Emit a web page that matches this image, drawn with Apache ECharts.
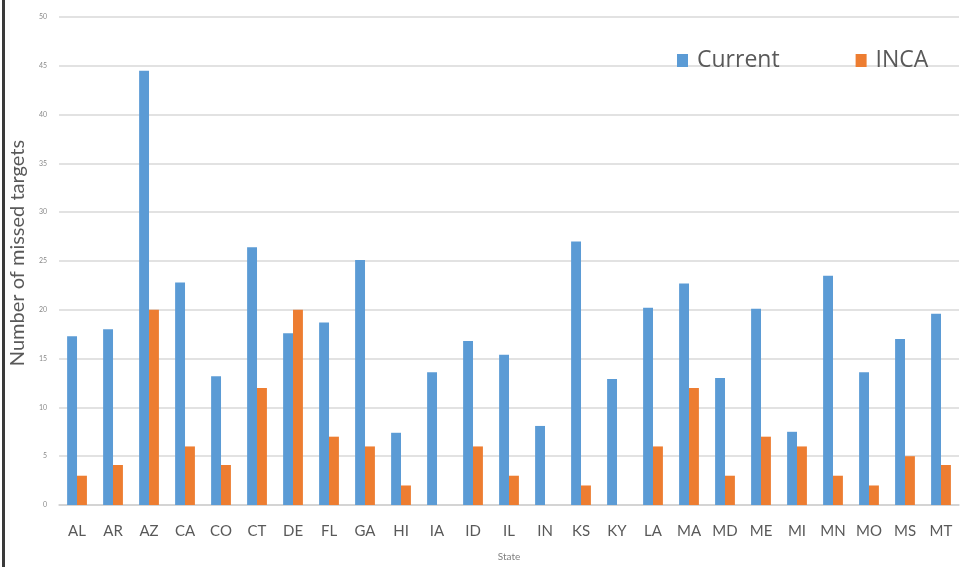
<!DOCTYPE html>
<html>
<head>
<meta charset="utf-8">
<script src="https://cdn.jsdelivr.net/npm/echarts@6/dist/echarts.min.js"></script>
<style>
  html, body { margin: 0; padding: 0; background: #fff; }
  #chart { width: 961px; height: 567px; }
</style>
</head>
<body>
<div id="chart"></div>
<script>
// States along the x axis
const states = ['AL','AR','AZ','CA','CO','CT','DE','FL','GA','HI','IA','ID','IL','IN','KS','KY','LA','MA','MD','ME','MI','MN','MO','MS','MT'];
// Missed targets per state, current method
const currentValues = [17.3, 18.0, 44.5, 22.8, 13.2, 26.4, 17.6, 18.7, 25.1, 7.4, 13.6, 16.8, 15.4, 8.1, 27.0, 12.9, 20.2, 22.7, 13.0, 20.1, 7.5, 23.5, 13.6, 17.0, 19.6];
// Missed targets per state, INCA
const incaValues = [3, 4.1, 20, 6, 4.1, 12, 20, 7, 6, 2, null, 6, 3, null, 2, null, 6, 12, 3, 7, 6, 3, 2, 5, 4.1];
// Value axis ticks
const yTicks = [0, 5, 10, 15, 20, 25, 30, 35, 40, 45, 50];

const chart = echarts.init(document.getElementById('chart'));
const font = 'Lato, "Open Sans", sans-serif';

chart.setOption({
  animation: false,
  backgroundColor: '#ffffff',
  textStyle: { fontFamily: font },
  graphic: [{
    type: 'rect',
    shape: { x: 2, y: 0, width: 3, height: 567 },
    style: { fill: '#3a3a3a' }
  }],
  legend: {
    left: 672,
    top: 44,
    itemWidth: 11,
    itemHeight: 13,
    itemGap: 76,
    icon: 'rect',
    textStyle: { fontSize: 23, color: '#595959', fontFamily: '"Open Sans", Lato, sans-serif', padding: [0, 0, 0, 4] },
    data: ['Current', 'INCA']
  },
  grid: { left: 54, right: 2, top: 17, bottom: 58 },
  xAxis: {
    type: 'category',
    data: states,
    boundaryGap: true,
    name: 'State',
    nameLocation: 'middle',
    nameGap: 47,
    nameTextStyle: { fontSize: 10, color: '#7f7f7f' },
    axisTick: { show: false },
    axisLine: { lineStyle: { color: '#cfcfcf', width: 1.5 } },
    axisLabel: { fontSize: 15, color: '#595959', margin: 19, interval: 0 }
  },
  yAxis: {
    type: 'value',
    min: yTicks[0],
    max: yTicks[yTicks.length - 1],
    interval: yTicks[1] - yTicks[0],
    name: 'Number of missed targets',
    nameLocation: 'middle',
    nameGap: 29,
    nameTextStyle: { fontSize: 20, color: '#595959', padding: [0, 0, 0, 16] },
    axisLine: { show: false },
    axisTick: { show: false },
    axisLabel: { fontSize: 7, color: '#8a8a8a', margin: 12 },
    splitLine: { lineStyle: { color: '#d9d9d9', width: 1.5 } }
  },
  series: [
    {
      name: 'Current',
      type: 'bar',
      data: currentValues,
      itemStyle: { color: '#5b9bd5' },
      barGap: '0%',
      barCategoryGap: '45%'
    },
    {
      name: 'INCA',
      type: 'bar',
      data: incaValues,
      itemStyle: { color: '#ed7d31' },
      barGap: '0%',
      barCategoryGap: '45%'
    }
  ]
});
</script>
</body>
</html>
